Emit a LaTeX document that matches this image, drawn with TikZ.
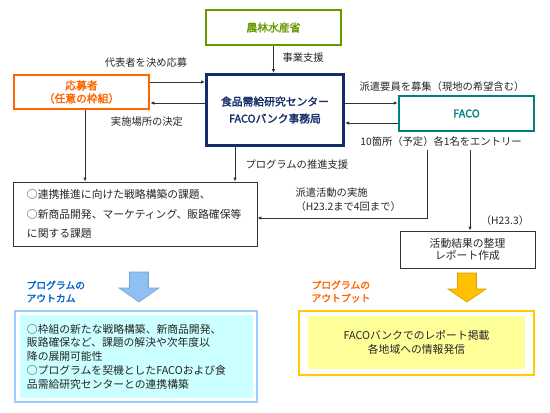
\documentclass[tikz,border=0pt]{standalone}
\usepackage{fontspec}
\setmainfont{Noto Sans CJK JP}[AutoFakeBold=2]
\usepackage{tikz}
\usetikzlibrary{arrows.meta}
\definecolor{maffgreen}{RGB}{102,153,0}
\definecolor{officeblue}{RGB}{20,45,105}
\definecolor{applyorange}{RGB}{255,102,0}
\definecolor{facoteal}{RGB}{0,128,128}
\definecolor{outblue}{RGB}{153,204,255}
\definecolor{outcyan}{RGB}{204,255,255}
\definecolor{outgold}{RGB}{255,204,0}
\definecolor{outyellow}{RGB}{255,255,153}
\definecolor{arrowblue}{RGB}{142,192,244}
\definecolor{arrowblueedge}{RGB}{120,160,210}
\definecolor{arrowgold}{RGB}{255,192,0}
\definecolor{arrowgoldedge}{RGB}{210,160,0}
\definecolor{labelblue}{RGB}{0,102,204}

\begin{document}
\begin{tikzpicture}[x=1pt, y=-1pt,
    every node/.style={font=\fontsize{10.3}{13}\selectfont, text=black!85},
    box/.style={draw, line width=2.5pt, minimum width=135pt, minimum height=35pt, align=center, font=\fontsize{10.8}{13}\selectfont\bfseries},
    plainbox/.style={draw=black!80, line width=0.8pt},
    flow/.style={draw=black!80, line width=0.8pt, -{Latex[length=4pt,width=3.5pt]}}]
            \useasboundingbox (0,0) rectangle (550,413);
            \node [box, draw=maffgreen, text=maffgreen] (maff) at (273.5, 27.5) {農林水産省};
            \node [box, draw=officeblue, text=officeblue, line width=3pt, minimum width=137pt, minimum height=71pt, font=\fontsize{10.8}{17}\selectfont\bfseries] (office) at (275, 110) {食品需給研究センター\\FACOバンク事務局};
            \node [box, draw=applyorange, text=applyorange, minimum height=34pt] (apply) at (81.5, 92) {応募者\\（任意の枠組）};
            \node [box, draw=facoteal, text=facoteal] (faco) at (466.5, 113.5) {FACO};
            \node [plainbox, text width=216pt, inner xsep=14pt, minimum height=64pt, align=left, font=\fontsize{10.8}{19.5}\selectfont] (issues) at (135, 214) {○連携推進に向けた戦略構築の課題、\\○新商品開発、マーケティング、販路確保等\\に関する課題};
            \node [plainbox, minimum width=135pt, minimum height=37pt, align=center, font=\fontsize{10.8}{12.5}\selectfont] (result) at (467.5, 249.5) {活動結果の整理\\レポート作成};
            \node (lblapply) at (146, 63) {代表者を決め応募};
            \node (lblplace) at (147, 122) {実施場所の決定};
            \node [anchor=west] (lblsupport) at (279, 58) {事業支援};
            \node (lblrecruit) at (442, 87) {派遣要員を募集（現地の希望含む）};
            \node (entry) at (441, 142) {10箇所（予定）各1名をエントリー};
            \node [anchor=west] (lblpromo) at (242, 165) {プログラムの推進支援};
            \node [anchor=west, align=left, font=\fontsize{10.3}{14}\selectfont] (lbldispatch) at (292, 200) {派遣活動の実施\\（H23.2まで4回まで）};
            \node (lbldate) at (505, 221) {（H23.3）};
            \draw [flow] (maff.south) -- (maff.south |- office.north);
            \draw [flow] ([yshift=10pt]apply.east) -- ([yshift=10pt]apply.east -| office.west);
            \draw [flow] ([yshift=-11pt]apply.east -| office.west) -- ([yshift=-11pt]apply.east);
            \draw [flow] ([yshift=10.5pt]faco.west -| office.east) -- ([yshift=10.5pt]faco.west);
            \draw [flow] ([yshift=-9.5pt]faco.west) -- ([yshift=-9.5pt]faco.west -| office.east);
            \draw [flow] ([xshift=3.5pt]apply.south) -- ([xshift=3.5pt]apply.south |- issues.north);
            \draw [flow] ([xshift=-40pt]office.south) -- ([xshift=-40pt]office.south |- issues.north);
            \draw [flow] ([xshift=-14pt]entry.south) |- ([yshift=-4pt]issues.east);
            \draw [flow] ([xshift=29pt]entry.south) -- ([xshift=29pt]entry.south |- result.north);
            \draw [draw=arrowblueedge, fill=arrowblue, line width=0.6pt] (129.5,272) -- (148.5,272) -- (148.5,288) -- (159,288) -- (139,302) -- (119,288) -- (129.5,288) -- cycle;
            \draw [draw=arrowgoldedge, fill=arrowgold, line width=0.6pt] (457.5,273) -- (476.5,273) -- (476.5,289) -- (486,289) -- (467,302) -- (448,289) -- (457.5,289) -- cycle;
            \node [anchor=west, align=left, text=labelblue, font=\fontsize{9.8}{13}\selectfont\bfseries] (lbloutcome) at (23, 291.5) {プログラムの\\アウトカム};
            \node [anchor=west, align=left, text=applyorange, font=\fontsize{9.8}{13}\selectfont\bfseries] (lbloutput) at (308, 291.5) {プログラムの\\アウトプット};
            \node [draw=outblue, line width=1.5pt, minimum width=242pt, minimum height=91pt] (outcomeframe) at (136, 356.5) {};
            \node [fill=outcyan, text width=219pt, inner xsep=7pt, minimum height=83pt, align=left, font=\fontsize{10.8}{13.75}\selectfont] (outcome) at (136.5, 356.5) {○枠組の新たな戦略構築、新商品開発、\\販路確保など、課題の解決や次年度以\\降の展開可能性\\○プログラムを契機としたFACOおよび食\\品需給研究センターとの連携構築};
            \node [draw=outgold, line width=1.5pt, minimum width=235pt, minimum height=64pt] (outputframe) at (416.5, 343) {};
            \node [fill=outyellow, minimum width=217pt, minimum height=53pt, align=center, font=\fontsize{10.8}{13.3}\selectfont] (output) at (416.5, 342.5) {FACOバンクでのレポート掲載\\各地域への情報発信};
        \end{tikzpicture}
\end{document}
